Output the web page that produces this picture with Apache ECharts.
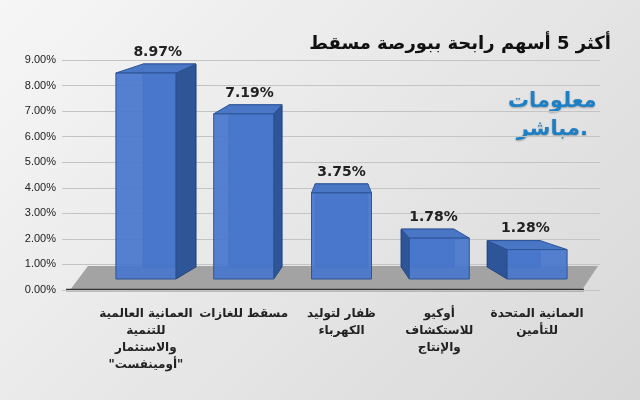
<!DOCTYPE html><html><head><meta charset="utf-8"><script src="https://cdn.jsdelivr.net/npm/echarts@6/dist/echarts.min.js"></script>
<style>body{margin:0}#c{width:640px;height:400px;background:linear-gradient(135deg,#f6f6f6,#d8d8d8)}</style></head><body><div id="c"></div><script>
var categories=['العمانية العالمية\nللتنمية\nوالاستثمار\n\u200F"أومينفست"\u200F','مسقط للغازات','ظفار لتوليد\nالكهرباء','أوكيو\nللاستكشاف\nوالإنتاج','العمانية المتحدة\nللتأمين'];
var values=[8.97,7.19,3.75,1.78,1.28];
var ch=echarts.init(document.getElementById('c'));
var W=60,K=0.88,VX=342,UP=9;
ch.setOption({
 title:{text:'أكثر 5 أسهم رابحة ببورصة مسقط',right:24,top:30,textStyle:{fontSize:18,fontWeight:'bold',color:'#111',fontFamily:'DejaVu Sans'}},
 graphic:[
  {type:'polygon',z:0,shape:{points:[[70,290],[582,290],[598,266],[88,266]]},style:{fill:'#a3a3a3'}},
  {type:'line',z:0,shape:{x1:66,y1:290,x2:584,y2:290},style:{stroke:'#333',lineWidth:2.5}},
  {type:'text',left:508,top:88,style:{text:'معلومات\nمباشر.',fill:'#1d7fc4',font:'bold 21px "DejaVu Sans"',textAlign:'center',lineHeight:28,textShadowColor:'rgba(0,0,0,0.3)',textShadowBlur:2,textShadowOffsetY:1}}
 ],
 grid:[{left:62,right:40,top:60,bottom:110},{left:97,right:54,top:72.3,bottom:121}],
 xAxis:[{gridIndex:0,type:'value',show:false,min:0,max:1},
  {gridIndex:1,type:'category',data:categories,axisLine:{show:false},axisTick:{show:false},
   axisLabel:{interval:0,margin:26,fontSize:12,fontWeight:'bold',color:'#222',lineHeight:17,fontFamily:'DejaVu Sans'}}],
 yAxis:[{gridIndex:0,type:'value',min:0,max:9,interval:1,axisLine:{show:false},axisTick:{show:false},
   axisLabel:{formatter:function(v){return v.toFixed(2)+'%'},fontSize:11,color:'#222',margin:6},splitLine:{lineStyle:{color:'#c4c4c4'}}},
  {gridIndex:1,type:'value',min:0,max:9,show:false,splitLine:{show:false}}],
 series:[{type:'custom',xAxisIndex:1,yAxisIndex:1,data:values.map(function(v,i){return [i,v]}),
  renderItem:function(p,api){var t=api.coord([api.value(0),api.value(1)]),b=api.coord([api.value(0),0]);
   var x0=t[0]-W/2,x1=x0+W,yt=t[1],yb=b[1];
   function bx(x){return VX+(x-VX)*K;}
   var bx0=bx(x0),bx1=bx(x1),byt=yt-UP,byb=yb-UP-3;
   var kids=[{type:'polygon',shape:{points:[[bx0,byt],[bx1,byt],[bx1,byb],[bx0,byb]]},style:{fill:'rgba(60,100,180,0.8)',stroke:'#2f5597'}}];
   if(x1<bx1) kids.push({type:'polygon',shape:{points:[[x1,yt],[bx1,byt],[bx1,byb],[x1,yb]]},style:{fill:'#2e5597',stroke:'#24457d'}});
   if(x0>bx0) kids.push({type:'polygon',shape:{points:[[x0,yt],[bx0,byt],[bx0,byb],[x0,yb]]},style:{fill:'#2e5597',stroke:'#24457d'}});
   kids.push({type:'polygon',shape:{points:[[x0,yt],[bx0,byt],[bx1,byt],[x1,yt]]},style:{fill:'#4a76c6',stroke:'#2f5597'}});
   kids.push({type:'rect',shape:{x:x0,y:yt,width:W,height:yb-yt},style:{fill:'rgba(72,118,204,0.92)',stroke:'#2f5597'}});
   kids.push({type:'text',style:{text:api.value(1).toFixed(2)+'%',x:t[0]+(bx((x0+x1)/2)-t[0])/2,y:byt-5,textAlign:'center',textVerticalAlign:'bottom',font:'bold 14px "DejaVu Sans"',fill:'#222'}});
   return {type:'group',children:kids};}}]
});
</script></body></html>
